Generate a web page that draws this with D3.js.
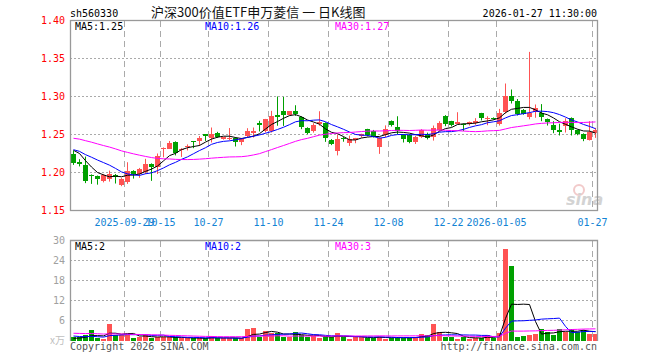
<!DOCTYPE html>
<html><head><meta charset="utf-8">
<script src="https://cdn.jsdelivr.net/npm/d3@7"></script>
<style>body{margin:0;background:#fff}svg{display:block}</style>
</head><body><svg id="c" width="660" height="360"></svg>
<script>
const dates = ["2025-09-16","2025-09-17","2025-09-18","2025-09-19","2025-09-22","2025-09-23","2025-09-24","2025-09-25","2025-09-26","2025-09-29","2025-09-30",
"2025-10-09","2025-10-10","2025-10-13","2025-10-14","2025-10-15","2025-10-16","2025-10-17","2025-10-20","2025-10-21","2025-10-22","2025-10-23","2025-10-24","2025-10-27","2025-10-28","2025-10-29","2025-10-30","2025-10-31",
"2025-11-03","2025-11-04","2025-11-05","2025-11-06","2025-11-07","2025-11-10","2025-11-11","2025-11-12","2025-11-13","2025-11-14","2025-11-17","2025-11-18","2025-11-19","2025-11-20","2025-11-21","2025-11-24","2025-11-25","2025-11-26","2025-11-27","2025-11-28",
"2025-12-01","2025-12-02","2025-12-03","2025-12-04","2025-12-05","2025-12-08","2025-12-09","2025-12-10","2025-12-11","2025-12-12","2025-12-15","2025-12-16","2025-12-17","2025-12-18","2025-12-19","2025-12-22","2025-12-23","2025-12-24","2025-12-25","2025-12-26","2025-12-29","2025-12-30","2025-12-31",
"2026-01-05","2026-01-06","2026-01-07","2026-01-08","2026-01-09","2026-01-12","2026-01-13","2026-01-14","2026-01-15","2026-01-16","2026-01-19","2026-01-20","2026-01-21","2026-01-22","2026-01-23","2026-01-26","2026-01-27"];
const opens = [1.225,1.2135,1.2096,1.197,1.195,1.189,1.192,1.197,1.183,1.187,
 1.202,1.198,1.201,1.211,1.207,1.231,1.2315,1.24,1.231,1.233,
 1.2408,1.2416,1.2504,1.2451,1.2517,1.2438,1.2435,1.246,1.2403,1.2474,
 1.2521,1.2645,1.2547,1.2547,1.2755,1.2803,1.2758,1.2803,1.2732,1.2592,
 1.2547,1.2636,1.265,1.2425,1.2285,1.2455,1.2385,1.2425,1.2475,1.257,
 1.254,1.233,1.2495,1.268,1.26,1.2495,1.2495,1.2403,1.2468,1.2513,
 1.2465,1.2553,1.275,1.2675,1.264,1.2638,1.2632,1.2655,1.278,1.2705,
 1.2712,1.264,1.2793,1.3013,1.2938,1.2824,1.2724,1.279,1.278,1.2705,
 1.2626,1.256,1.2618,1.2714,1.2553,1.2508,1.2429,1.2522];
const highs = [1.229,1.2175,1.221,1.1975,1.196,1.198,1.2025,1.198,1.193,1.2135,
 1.203,1.206,1.218,1.212,1.225,1.233,1.2415,1.241,1.232,1.237,
 1.241,1.248,1.2506,1.2592,1.2535,1.2465,1.2585,1.2465,1.2455,1.2583,
 1.2592,1.268,1.2705,1.2811,1.30,1.2995,1.2806,1.2885,1.274,1.2595,
 1.2649,1.2806,1.266,1.244,1.25,1.247,1.2485,1.2455,1.251,1.2575,
 1.256,1.2465,1.262,1.2685,1.274,1.2505,1.2505,1.248,1.257,1.2525,
 1.2618,1.2675,1.2755,1.268,1.2793,1.2645,1.267,1.2715,1.2785,1.274,
 1.2725,1.2837,1.3171,1.3092,1.2967,1.2835,1.3587,1.2895,1.29,1.271,
 1.2675,1.2642,1.2714,1.2725,1.2565,1.2515,1.2675,1.2587];
const lows = [1.21,1.208,1.186,1.185,1.184,1.187,1.188,1.1855,1.182,1.185,
 1.192,1.193,1.198,1.189,1.198,1.22,1.231,1.2225,1.2205,1.229,
 1.232,1.235,1.2416,1.2395,1.2455,1.2432,1.2425,1.2342,1.236,1.2465,
 1.246,1.254,1.2526,1.2526,1.2615,1.2613,1.275,1.2745,1.257,1.2504,
 1.2525,1.2615,1.2403,1.236,1.2225,1.2405,1.235,1.2385,1.246,1.2475,
 1.246,1.2245,1.2465,1.2605,1.25,1.2395,1.2385,1.2375,1.2455,1.2435,
 1.242,1.2545,1.2609,1.2605,1.2635,1.2545,1.2618,1.2628,1.2685,1.2622,
 1.2695,1.2618,1.2776,1.2908,1.275,1.276,1.27,1.272,1.2675,1.2618,
 1.2517,1.2487,1.2526,1.2487,1.249,1.2412,1.2421,1.2456];
const closes = [1.212,1.211,1.189,1.196,1.192,1.1965,1.198,1.1935,1.192,1.202,
 1.198,1.2045,1.211,1.207,1.222,1.232,1.239,1.226,1.2315,1.2345,
 1.2398,1.246,1.2482,1.2513,1.2468,1.2465,1.246,1.2395,1.2447,1.254,
 1.2547,1.2625,1.2701,1.2745,1.2735,1.2758,1.2803,1.2767,1.26,1.2526,
 1.2626,1.2658,1.246,1.2375,1.2435,1.2435,1.2445,1.245,1.2505,1.2495,
 1.247,1.245,1.257,1.2625,1.2545,1.2447,1.2403,1.2468,1.2556,1.246,
 1.2583,1.2649,1.264,1.2626,1.2658,1.2632,1.2658,1.2675,1.2714,1.2714,
 1.2705,1.2789,1.3013,1.2938,1.2771,1.2771,1.2789,1.285,1.2728,1.2662,
 1.256,1.2539,1.2684,1.256,1.2508,1.2442,1.253,1.2553];
const volumes = [0.95,0.95,1.65,3.15,0.65,0.5,4.95,1.65,1.65,1.65,
 0.65,1.15,1.65,0.65,1.15,0.95,0.95,0.95,0.65,0.65,
 0.65,0.65,0.65,1.35,0.65,0.65,0.65,0.65,0.65,3.35,
 3.85,1.15,2.95,2.35,2.15,1.15,1.15,2.65,1.65,1.15,
 1.35,0.65,1.15,1.0,2.35,1.0,0.5,1.0,1.0,0.9,
 0.9,1.2,0.5,0.7,1.0,0.9,0.9,0.9,1.95,1.65,
 4.95,2.55,1.2,1.2,0.5,1.0,0.4,0.9,0.9,1.65,
 0.9,2.15,27.45,22.35,1.2,1.35,1.65,1.95,3.45,2.65,
 1.65,3.45,2.65,3.45,2.65,3.3,1.85,1.95];
// sessions before the first visible day (needed for the moving averages)
const priorCloses = [1.245,1.25,1.255,1.26,1.262,1.258,1.265,1.27,1.262,1.255,1.258,1.26,1.252,1.255,1.248,
 1.245,1.242,1.238,1.236,1.235,1.233,1.232,1.230,1.229,1.230,1.232,1.236,1.238,1.228];
const priorVolumes = [2.2,3.0,2.8,2.5,3.5,2.9,2.4,2.1,3.2,2.6,2.3,2.7,2.0,2.4,3.1,2.5,2.2,2.6,2.4,2.1,
 2.5,2.2,2.0,1.8,1.75,0.5,0.6,0.6,0.6];
const priceTicks = [1.40,1.35,1.30,1.25,1.20,1.15];
const volTicks = [30,24,18,12,6];
const tickDates = ["2025-09-29","2025-10-15","2025-10-27","2025-11-10","2025-11-24","2025-12-08","2025-12-22","2026-01-05","2026-01-27"];
const tickLabels = ["2025-09-29","10-15","10-27","11-10","11-24","12-08","12-22","2026-01-05","01-27"];
const maPeriods = [5,10,30];
const maColors = ["#000000","#0000ff","#ff00ff"];

const svg = d3.select("#c");
const L = 70, R = 598;
const mono = "'DejaVu Sans Mono', monospace";
const RED = "#ff5353", GREEN = "#00a000", GRID = "#aaaaaa", BORDER = "#999999";

const x = d3.scaleLinear().domain([0, dates.length]).range([L, R]);
const y = d3.scaleLinear().domain([1.15, 1.40]).range([210.5, 20.5]);
const yv = d3.scaleLinear().domain([0, 30]).range([340.5, 240.5]);
const n = dates.length;
const idx = d3.range(n);
const up = i => closes[i] >= opens[i];

function ma(src, prior, p) {
  const full = prior.concat(src), off = prior.length;
  return idx.map(i => d3.mean(full.slice(off + i - p + 1, off + i + 1)));
}
const priceMA = maPeriods.map(p => ma(closes, priorCloses, p));
const volMA = maPeriods.map(p => ma(volumes, priorVolumes, p));

// header
svg.append("text").attr("x", 70).attr("y", 16.5).attr("font-family", mono).attr("font-size", 10).attr("fill", "#000").text("sh560330");
svg.append("text").attr("x", 151).attr("y", 16.5).attr("font-family", "'Noto Sans CJK SC', sans-serif").attr("font-size", 13).attr("fill", "#111").text("沪深300价值ETF申万菱信 一 日K线图");
svg.append("text").attr("x", 597).attr("y", 16.5).attr("text-anchor", "end").attr("font-family", mono).attr("font-size", 10).attr("fill", "#000").text("2026-01-27 11:30:00");

function panel(top, bottom, scale, ticks, labelFmt, labelColor) {
  const g = svg.append("g");
  // horizontal dotted grid
  g.selectAll("line.h").data(ticks.filter(t => { const yy = scale(t); return yy > top + 1 && yy < bottom - 1; }))
    .join("line").attr("x1", L).attr("x2", R)
    .attr("y1", d => Math.round(scale(d) - 0.5) + 0.5).attr("y2", d => Math.round(scale(d) - 0.5) + 0.5)
    .attr("stroke", GRID).attr("stroke-dasharray", "2,2").attr("shape-rendering", "crispEdges");
  // vertical dashed grid
  g.selectAll("line.v").data(tickDates).join("line")
    .attr("x1", d => x(dates.indexOf(d)) + 0.5).attr("x2", d => x(dates.indexOf(d)) + 0.5)
    .attr("y1", top).attr("y2", bottom)
    .attr("stroke", GRID).attr("stroke-dasharray", "6,4").attr("shape-rendering", "crispEdges");
  // labels
  g.selectAll("text").data(ticks).join("text")
    .attr("x", 65).attr("y", d => scale(d) + 3.5).attr("text-anchor", "end")
    .attr("font-family", mono).attr("font-size", 10).attr("fill", labelColor)
    .text(labelFmt);
  return g;
}

// price panel
panel(20.5, 210.5, y, priceTicks, d => d.toFixed(2), "#ff0000");
// volume panel
panel(240.5, 340.5, yv, volTicks, d => d, "#a0a0a0");
svg.append("text").attr("x", 65).attr("y", 344).attr("text-anchor", "end")
  .attr("font-family", "'Noto Sans CJK SC', sans-serif").attr("font-size", 10).attr("fill", "#c0c0c0").text("x万");

// x axis labels
svg.append("g").selectAll("text").data(tickDates).join("text")
  .attr("x", (d) => x(dates.indexOf(d)) + 0.5).attr("y", 225.5).attr("text-anchor", "middle")
  .attr("font-family", mono).attr("font-size", 10).attr("fill", "#1283d4")
  .text((d, k) => tickLabels[k]);

// sina watermark
const wm = svg.append("g").attr("opacity", 0.55);
wm.append("circle").attr("cx", 579).attr("cy", 190).attr("r", 5).attr("fill", "none").attr("stroke", "#e8a0a0").attr("stroke-width", 2);
wm.append("text").attr("x", 566).attr("y", 205).attr("font-family", "'DejaVu Sans', sans-serif").attr("font-weight", "bold").attr("font-style", "italic").attr("font-size", 16).attr("fill", "#b0b0b0").text("sina");

// candles
const cg = svg.append("g");
cg.selectAll("line").data(idx).join("line")
  .attr("x1", i => x(i) + 3.5).attr("x2", i => x(i) + 3.5)
  .attr("y1", i => y(highs[i])).attr("y2", i => y(lows[i]))
  .attr("stroke", i => up(i) ? RED : GREEN).attr("stroke-width", 1);
cg.selectAll("rect").data(idx).join("rect")
  .attr("x", i => x(i) + 1).attr("width", 5)
  .attr("y", i => y(Math.max(opens[i], closes[i])))
  .attr("height", i => Math.max(1, Math.abs(y(opens[i]) - y(closes[i]))))
  .attr("fill", i => up(i) ? RED : GREEN).attr("shape-rendering", "crispEdges");

// volume bars
svg.append("g").selectAll("rect").data(idx).join("rect")
  .attr("x", i => x(i) + 1).attr("width", 5)
  .attr("y", i => yv(volumes[i])).attr("height", i => 341 - yv(volumes[i]))
  .attr("fill", i => up(i) ? RED : GREEN).attr("shape-rendering", "crispEdges");

// moving average lines
const lineP = d3.line().x((d, i) => x(i) + 3.5).y(d => y(d));
const lineV = d3.line().x((d, i) => x(i) + 3.5).y(d => yv(d));
priceMA.forEach((arr, k) => svg.append("path").attr("d", lineP(arr)).attr("fill", "none").attr("stroke", maColors[k]).attr("stroke-width", 1));
volMA.forEach((arr, k) => svg.append("path").attr("d", lineV(arr)).attr("fill", "none").attr("stroke", maColors[k]).attr("stroke-width", 1));

// borders
svg.append("rect").attr("x", 70.5).attr("y", 20.5).attr("width", 527).attr("height", 190).attr("fill", "none").attr("stroke", BORDER).attr("stroke-width", 1.3);
svg.append("path").attr("d", "M70.5,341V240.5H597.5V341").attr("fill", "none").attr("stroke", BORDER).attr("stroke-width", 1.3);

// MA legends
const labX = [75, 205, 335];
maPeriods.forEach((p, k) => {
  svg.append("text").attr("x", labX[k]).attr("y", 30).attr("font-family", mono).attr("font-size", 10).attr("fill", maColors[k])
    .text("MA" + p + ":" + priceMA[k][n - 1].toFixed(2));
  svg.append("text").attr("x", labX[k]).attr("y", 250).attr("font-family", mono).attr("font-size", 10).attr("fill", maColors[k])
    .text("MA" + p + ":" + Math.floor(volMA[k][n - 1]));
});

// footer
svg.append("text").attr("x", 70).attr("y", 350).attr("font-family", mono).attr("font-size", 10).attr("fill", "#555").text("Copyright 2026 SINA.COM");
svg.append("text").attr("x", 597).attr("y", 350).attr("text-anchor", "end").attr("font-family", mono).attr("font-size", 10).attr("fill", "#555").text("http://finance.sina.com.cn");
</script></body></html>
